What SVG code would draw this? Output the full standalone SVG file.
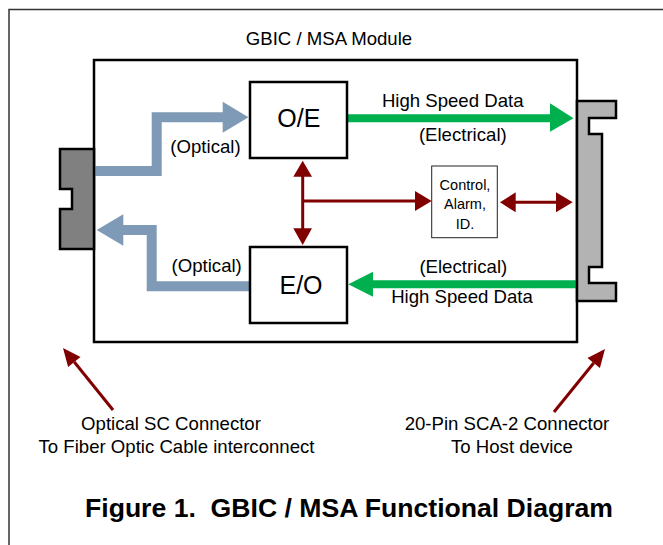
<svg xmlns="http://www.w3.org/2000/svg" width="663" height="545" viewBox="0 0 663 545">
<style>
text{font-family:"Liberation Sans",Arial,sans-serif;fill:#000}
.lbl{font-size:18.6px;text-anchor:middle}
.big{font-size:25px;text-anchor:middle}
.sm{font-size:14.5px;text-anchor:middle}
.title{font-size:26.6px;font-weight:bold;text-anchor:middle;white-space:pre}
.opt{fill:none;stroke:#7f9ab6;stroke-width:10;stroke-linejoin:miter}
.optH{fill:#7f9ab6}
.grn{stroke:#00b04f;stroke-width:8;fill:none}
.grnH{fill:#00b04f}
.red{stroke:#800000;stroke-width:3;fill:none}
.redH{fill:#800000}
.box{fill:#fff;stroke:#000;stroke-width:2.5}
</style>
<g id="frame">
<path d="M9,545 V9.5 H663" fill="none" stroke="#333" stroke-width="1.5"/>
</g>
<g id="module">
<rect x="94" y="60" width="483" height="282" class="box"/>
<text x="329" y="45" class="lbl">GBIC / MSA Module</text>
</g>
<g id="connectors">
<path class="opt" d="M94,171 H156.7 V117.3 H223"/>
<polygon class="optH" points="222.7,101.7 248.5,117.3 222.7,132.7"/>
<path class="opt" d="M250,286.3 H151.7 V230 H123"/>
<polygon class="optH" points="123.3,214.3 96.7,230 123.3,245.7"/>
<line class="grn" x1="347" y1="118.3" x2="551" y2="118.3"/>
<polygon class="grnH" points="550,103.3 573.5,118.3 550,131.7"/>
<line class="grn" x1="372" y1="284.3" x2="577" y2="284.3"/>
<polygon class="grnH" points="373,271.7 348.3,284.3 373,296.7"/>
<line class="red" x1="302.7" y1="176" x2="302.7" y2="229"/>
<polygon class="redH" points="293.3,176.7 302.7,160.7 312,176.7"/>
<polygon class="redH" points="293.3,228.3 302.7,245 312,228.3"/>
<line class="red" x1="302.7" y1="201" x2="416" y2="201"/>
<polygon class="redH" points="415,191 431.7,201 415,211"/>
<line class="red" x1="515" y1="202.3" x2="557" y2="202.3"/>
<polygon class="redH" points="515.7,192.3 500,202.3 515.7,212.3"/>
<polygon class="redH" points="556,192.3 572.7,202.3 556,212.3"/>
<line class="red" x1="113" y1="410" x2="74.3" y2="362"/>
<polygon class="redH" points="63,348 80.5,357 68.1,367"/>
<line class="red" x1="554" y1="412" x2="593.7" y2="363"/>
<polygon class="redH" points="605,349 599.9,368 587.5,358"/>
<text x="205.5" y="153.3" class="lbl">(Optical)</text>
<text x="206.7" y="271.7" class="lbl">(Optical)</text>
<text x="452.7" y="106.7" class="lbl">High Speed Data</text>
<text x="462.8" y="140.7" class="lbl">(Electrical)</text>
<text x="463.3" y="273.3" class="lbl">(Electrical)</text>
<text x="462" y="303.3" class="lbl">High Speed Data</text>
</g>
<g id="sc-connector">
<polygon points="94,149 60,149 60,189 72,189 72,209 60,209 60,249 94,249" fill="#808080" stroke="#000" stroke-width="2.5"/>
</g>
<g id="sca2-connector">
<polygon points="577,101 616,101 616,118 589,118 589,134 602,134 602,267 589,267 589,283 616,283 616,301 577,301" fill="#b3b3b3" stroke="#000" stroke-width="2.5"/>
</g>
<g id="oe">
<rect x="250" y="82" width="97" height="76" class="box"/>
<text x="298.8" y="127.3" class="big">O/E</text>
</g>
<g id="eo">
<rect x="250" y="247" width="97" height="76" class="box"/>
<text x="301" y="294" class="big">E/O</text>
</g>
<g id="control">
<rect x="431.7" y="166" width="65.6" height="71.7" fill="#fff" stroke="#222" stroke-width="1"/>
<text x="465" y="190" class="sm">Control,</text>
<text x="465" y="209" class="sm">Alarm,</text>
<text x="465" y="229" class="sm">ID.</text>
</g>
<g id="labels">
<text x="171" y="430" class="lbl">Optical SC Connector</text>
<text x="176.5" y="453" class="lbl">To Fiber Optic Cable interconnect</text>
<text x="507" y="430" class="lbl">20-Pin SCA-2 Connector</text>
<text x="512" y="453" class="lbl">To Host device</text>
<text x="349" y="517" class="title">Figure 1.  GBIC / MSA Functional Diagram</text>
</g>
</svg>
